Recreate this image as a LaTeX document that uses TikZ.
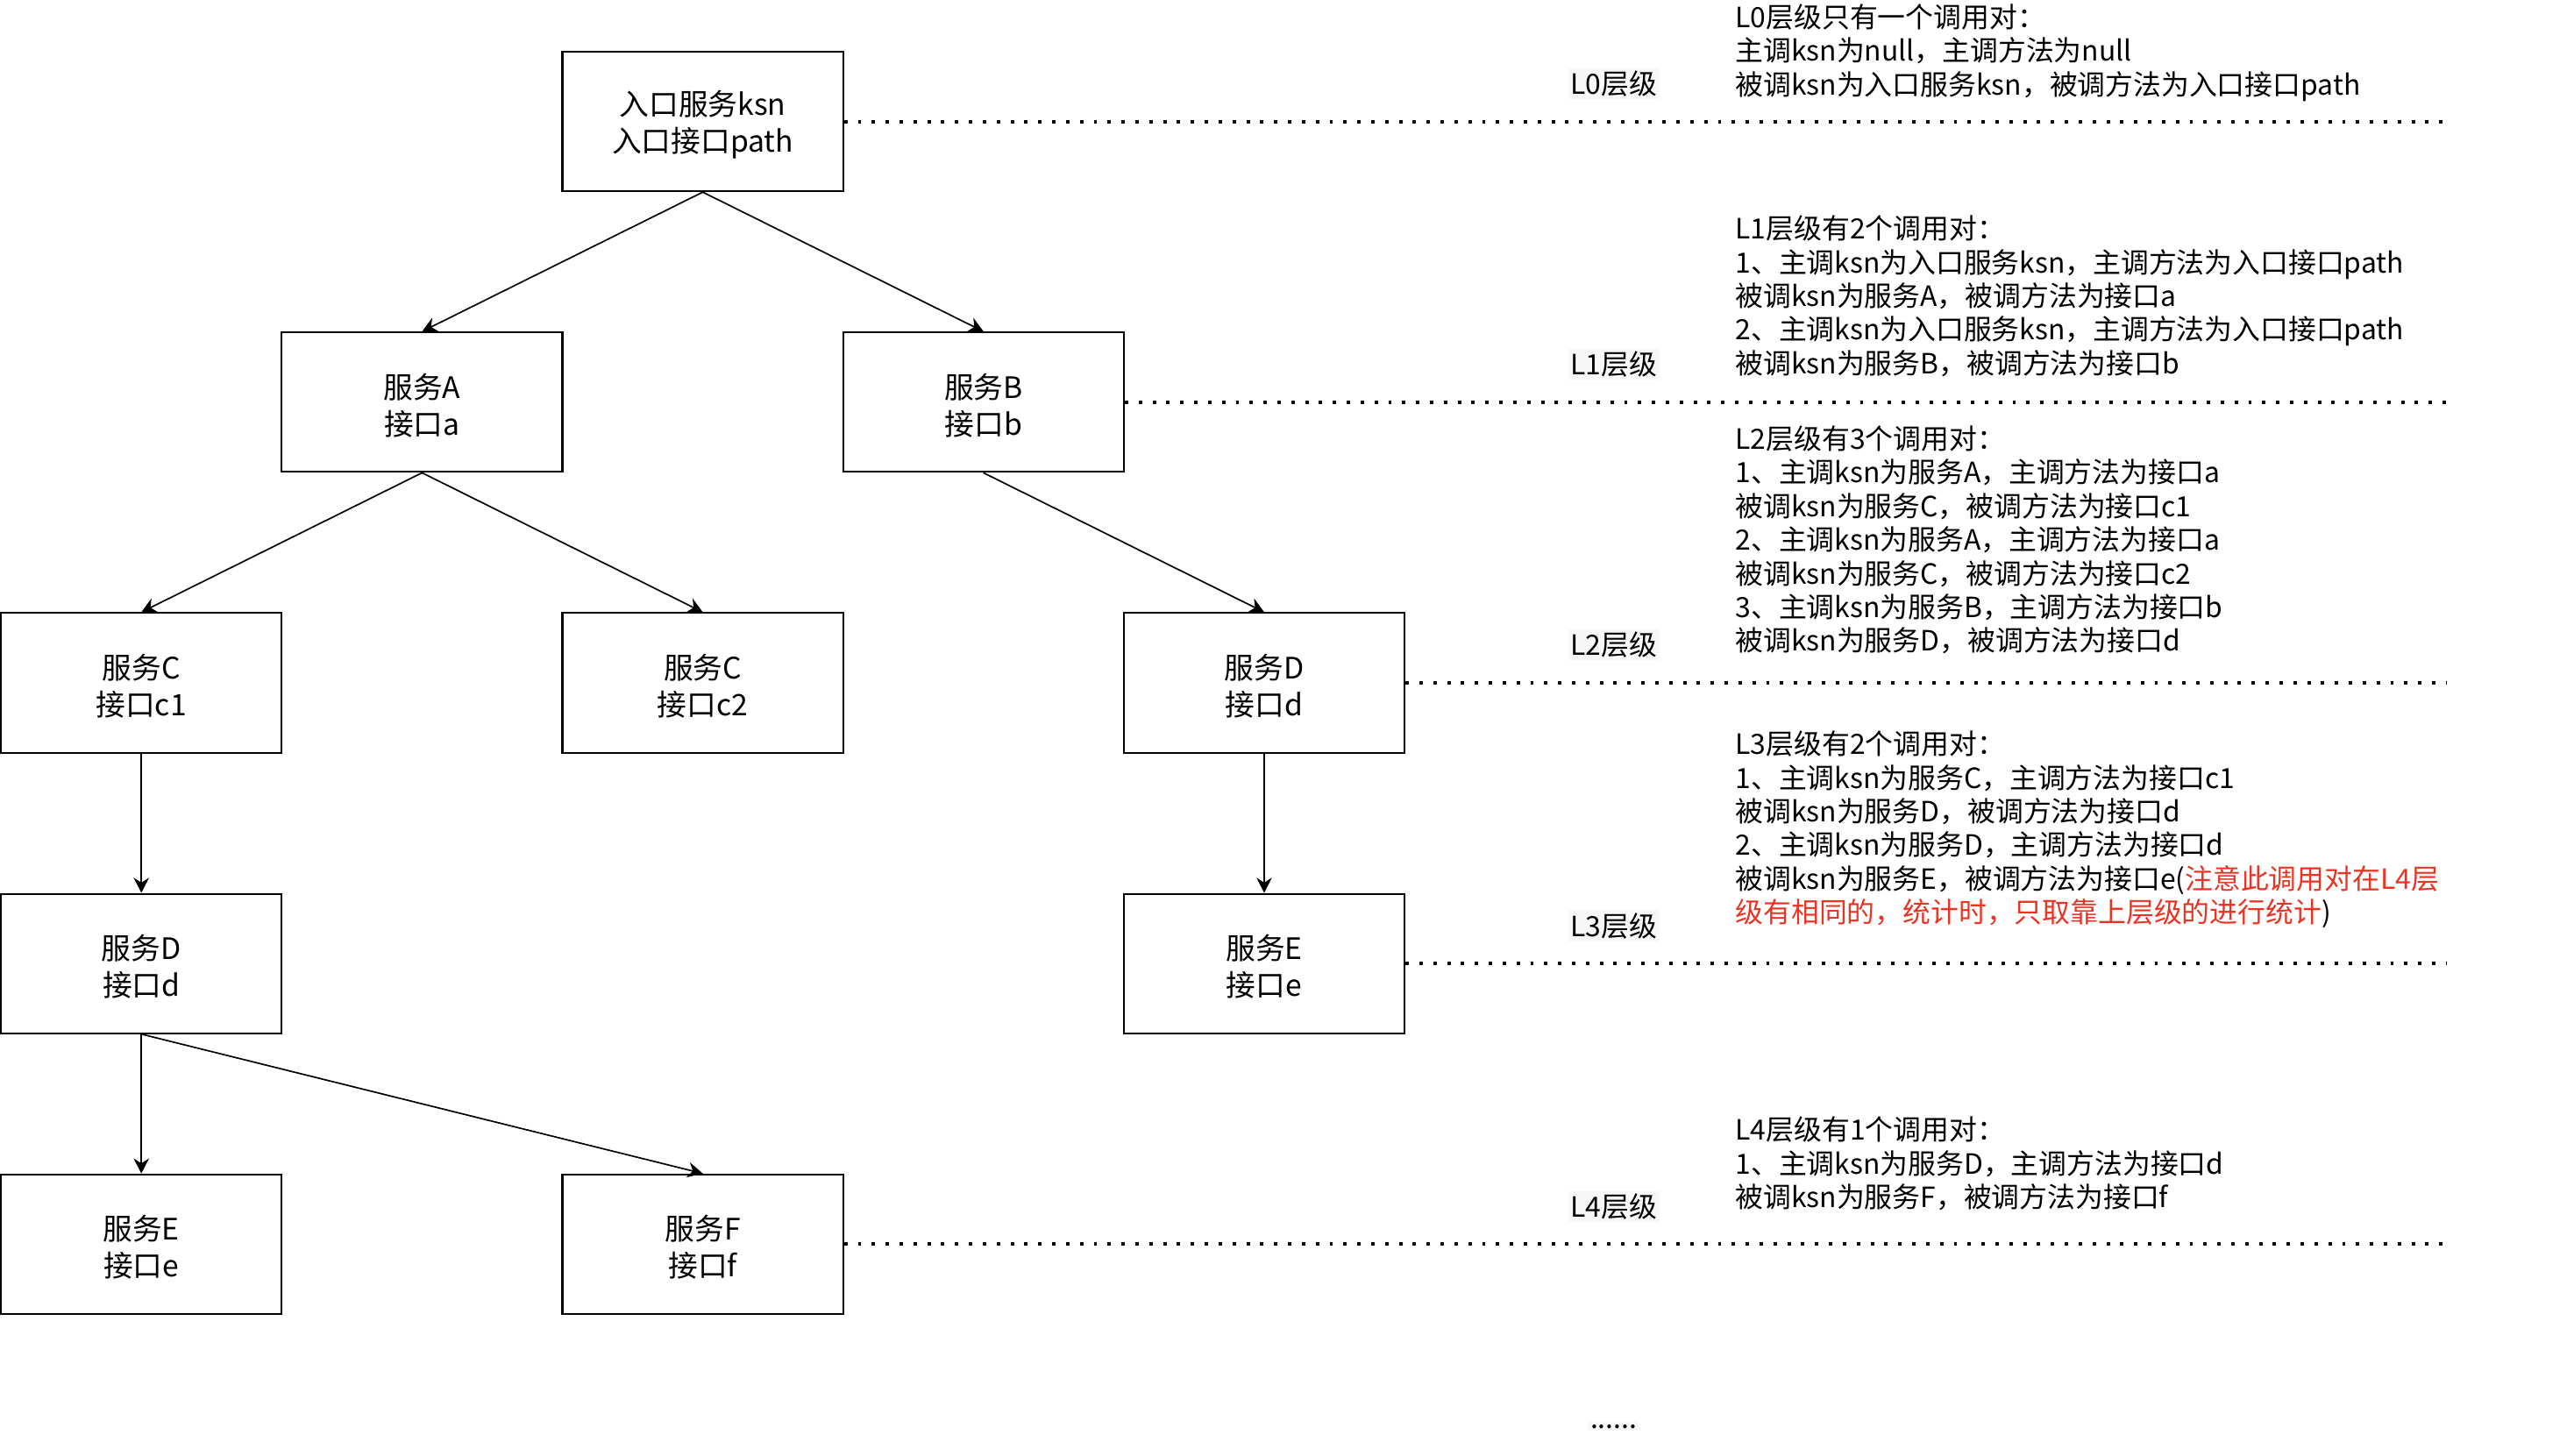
\documentclass[tikz,border=0pt]{standalone}
\usepackage{fontspec}
\setmainfont{Noto Sans CJK SC}
\usetikzlibrary{arrows.meta}
\definecolor{notered}{RGB}{234,51,35}
\newcommand{\fst}{\rule{0pt}{19pt}}
\begin{document}
\begin{tikzpicture}[x=1pt,y=-1pt,
  box/.style={draw, line width=1.1pt, minimum width=171pt, minimum height=85pt,
    inner sep=0pt, align=center, font=\fontsize{18}{22.3}\selectfont},
  arr/.style={-{Stealth[length=9.2pt,width=9.4pt,inset=3pt]}, line width=0.9pt},
  dotline/.style={line width=2.1pt, dash pattern=on 2.1pt off 6.35pt},
  lvl/.style={font=\fontsize{17}{20.4}\selectfont, fill=black!3, inner sep=1.5pt},
  note/.style={font=\fontsize{17}{20.5}\selectfont, align=left, anchor=north west, inner sep=0pt}]
\useasboundingbox (0,0) rectangle (1568,886.6);

% boxes
\node[box] (root) at (428.1,74) {\fst 入口服务ksn\\入口接口path};
\node[box] (A) at (257.1,245) {\fst 服务A\\接口a};
\node[box] (B) at (599.1,245) {\fst 服务B\\接口b};
\node[box] (C1) at (86.1,416) {\fst 服务C\\接口c1};
\node[box] (C2) at (428.1,416) {\fst 服务C\\接口c2};
\node[box] (D1) at (770.1,416) {\fst 服务D\\接口d};
\node[box] (D2) at (86.1,587) {\fst 服务D\\接口d};
\node[box] (E1) at (770.1,587) {\fst 服务E\\接口e};
\node[box] (E2) at (86.1,758) {\fst 服务E\\接口e};
\node[box] (F) at (428.1,758) {\fst 服务F\\接口f};

% arrows
\draw[arr] (root.south) -- (A.north);
\draw[arr] (root.south) -- (B.north);
\draw[arr] (A.south) -- (C1.north);
\draw[arr] (A.south) -- (C2.north);
\draw[arr] (B.south) -- (D1.north);
\draw[arr] (C1.south) -- (D2.north);
\draw[arr] (D1.south) -- (E1.north);
\draw[arr] (D2.south) -- (E2.north);
\draw[arr] (D2.south) -- (F.north);

% level lines
\coordinate (e0) at (1490,74);
\coordinate (e1) at (1490,245);
\coordinate (e2) at (1490,416);
\coordinate (e3) at (1490,587);
\coordinate (e4) at (1490,758);
\draw[dotline] (root.east) -- (e0);
\draw[dotline] (B.east) -- (e1);
\draw[dotline] (D1.east) -- (e2);
\draw[dotline] (E1.east) -- (e3);
\draw[dotline] (F.east) -- (e4);

% level labels
\node[lvl] (l0) at (983,51) {L0层级};
\node[lvl] (l1) at (983,222) {L1层级};
\node[lvl] (l2) at (983,393) {L2层级};
\node[lvl] (l3) at (983,564) {L3层级};
\node[lvl] (l4) at (983,735) {L4层级};
\node[lvl, anchor=base] (more) at (983,870) {......};

% notes
\node[note] (n0) at (1057,0.5) {\rule{0pt}{16pt}L0层级只有一个调用对：\\
主调ksn为null，主调方法为null\\
被调ksn为入口服务ksn，被调方法为入口接口path};

\node[note] (n1) at (1057,129.5) {\rule{0pt}{16pt}L1层级有2个调用对：\\
1、主调ksn为入口服务ksn，主调方法为入口接口path\\
被调ksn为服务A，被调方法为接口a\\
2、主调ksn为入口服务ksn，主调方法为入口接口path\\
被调ksn为服务B，被调方法为接口b};

\node[note] (n2) at (1057,257.5) {\rule{0pt}{16pt}L2层级有3个调用对：\\
1、主调ksn为服务A，主调方法为接口a\\
被调ksn为服务C，被调方法为接口c1\\
2、主调ksn为服务A，主调方法为接口a\\
被调ksn为服务C，被调方法为接口c2\\
3、主调ksn为服务B，主调方法为接口b\\
被调ksn为服务D，被调方法为接口d};

\node[note] (n3) at (1057,443.5) {\rule{0pt}{16pt}L3层级有2个调用对：\\
1、主调ksn为服务C，主调方法为接口c1\\
被调ksn为服务D，被调方法为接口d\\
2、主调ksn为服务D，主调方法为接口d\\
被调ksn为服务E，被调方法为接口e({\color{notered}注意此调用对在L4层}\\
{\color{notered}级有相同的，统计时，只取靠上层级的进行统计})};

\node[note] (n4) at (1057,678.5) {\rule{0pt}{16pt}L4层级有1个调用对：\\
1、主调ksn为服务D，主调方法为接口d\\
被调ksn为服务F，被调方法为接口f};
\end{tikzpicture}
\end{document}
